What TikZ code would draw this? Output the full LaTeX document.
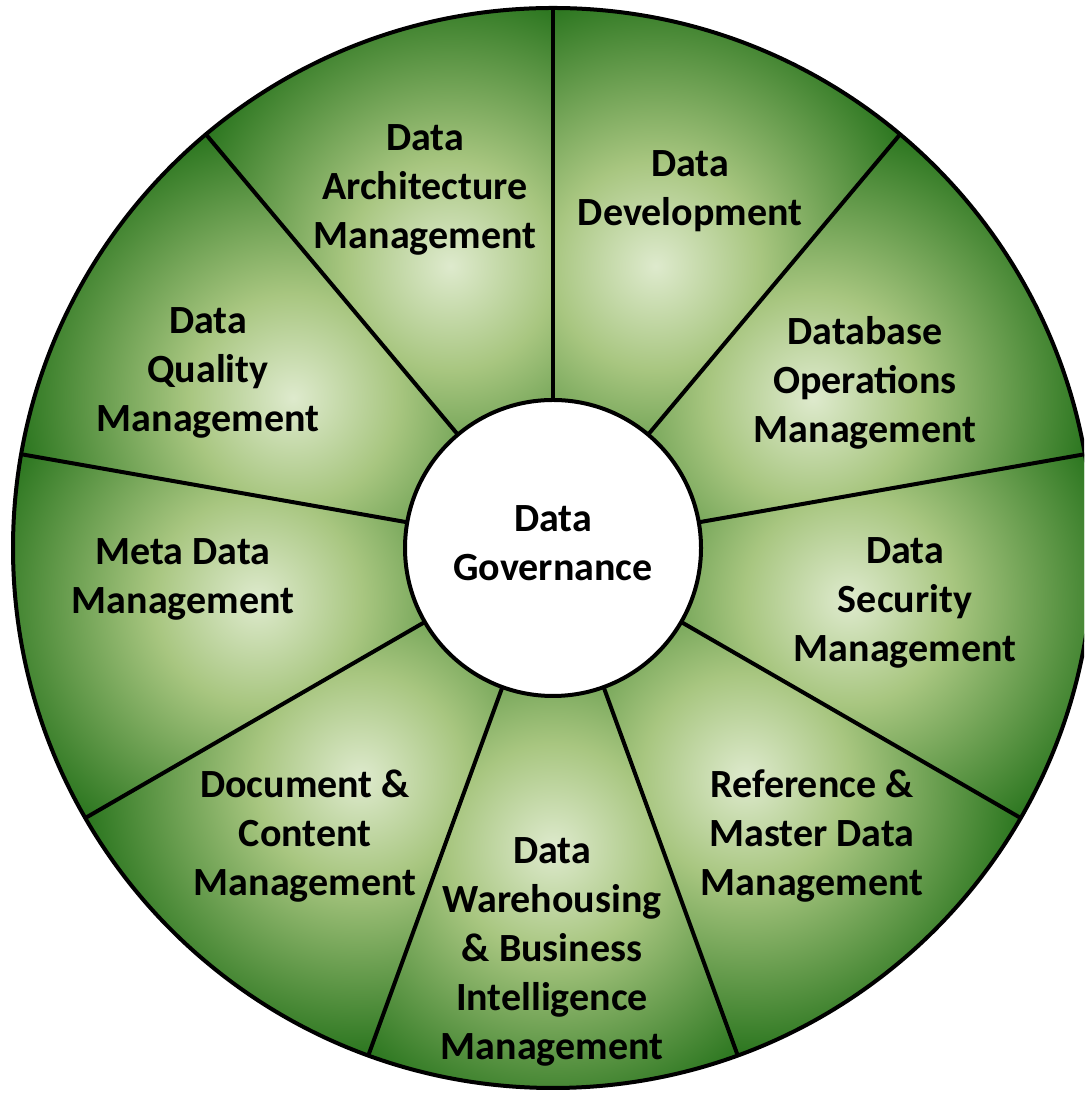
\documentclass[tikz,border=0pt]{standalone}
\usepackage{fontspec}
\setmainfont{Carlito}
\usetikzlibrary{positioning}
\definecolor{segLight}{RGB}{222,234,205}
\definecolor{segMid}{RGB}{168,198,128}
\definecolor{segDark}{RGB}{34,112,24}
\pgfdeclareradialshading{segshade}{\pgfpoint{0bp}{0bp}}{color(0bp)=(segLight); color(9bp)=(segMid); color(25bp)=(segDark); color(50bp)=(segDark)}
\tikzset{
        % Labels of the wheel
        seglabel/.style={align=center, inner sep=0pt, text=black, font=\fontsize{20}{24.5}\selectfont\bfseries},
        % Centre disc
        hub/.style={circle, draw=black, line width=2pt, fill=white, minimum size=148pt, inner sep=0pt},
        % Rim and spokes
        spoke/.style={draw=black, line width=2pt}
}
\begin{document}
\begin{tikzpicture}[x=0.5pt, y=0.5pt]
    \path[use as bounding box, clip] (0,0) rectangle (1084,1096);
    % segments
    \begin{scope}[shift={(553,548)}]
        \foreach \a in {90,50,...,-230} {
            \begin{scope}
                \clip (0,0) -- (\a:540) arc[start angle=\a, end angle=\a-40, radius=540] -- cycle;
                \fill[segDark] (0,0) circle (540);
                \shade[shading=segshade] (\a-20:300) circle (290);
            \end{scope}
        }
        \draw[spoke] (0,0) circle (540);
        \foreach \a in {90,50,...,-230}
            \draw[spoke] (\a:148) -- (\a:540);
    \end{scope}
    \node[hub] (gov) at (553,548) {};
    \node[seglabel] (govtext) at (553,553) {Data\\Governance};
    \node[seglabel] (arch) at (425,906) {Data\\Architecture\\Management};
    \node[seglabel] (dev) at (690,905) {Data\\Development};
    \node[seglabel] (dbops) at (865,713) {Database\\Operations\\Management};
    \node[seglabel] (sec) at (905,493) {Data\\Security\\Management};
    \node[seglabel] (ref) at (812,260) {Reference \&\\Master Data\\Management};
    \node[seglabel] (dwbi) at (552,144) {Data\\Warehousing\\\& Business\\Intelligence\\Management};
    \node[seglabel] (doc) at (305,260) {Document \&\\Content\\Management};
    \node[seglabel] (meta) at (183,517) {Meta Data\\Management};
    \node[seglabel] (qual) at (208,723) {Data\\Quality\\Management};
\end{tikzpicture}
\end{document}
